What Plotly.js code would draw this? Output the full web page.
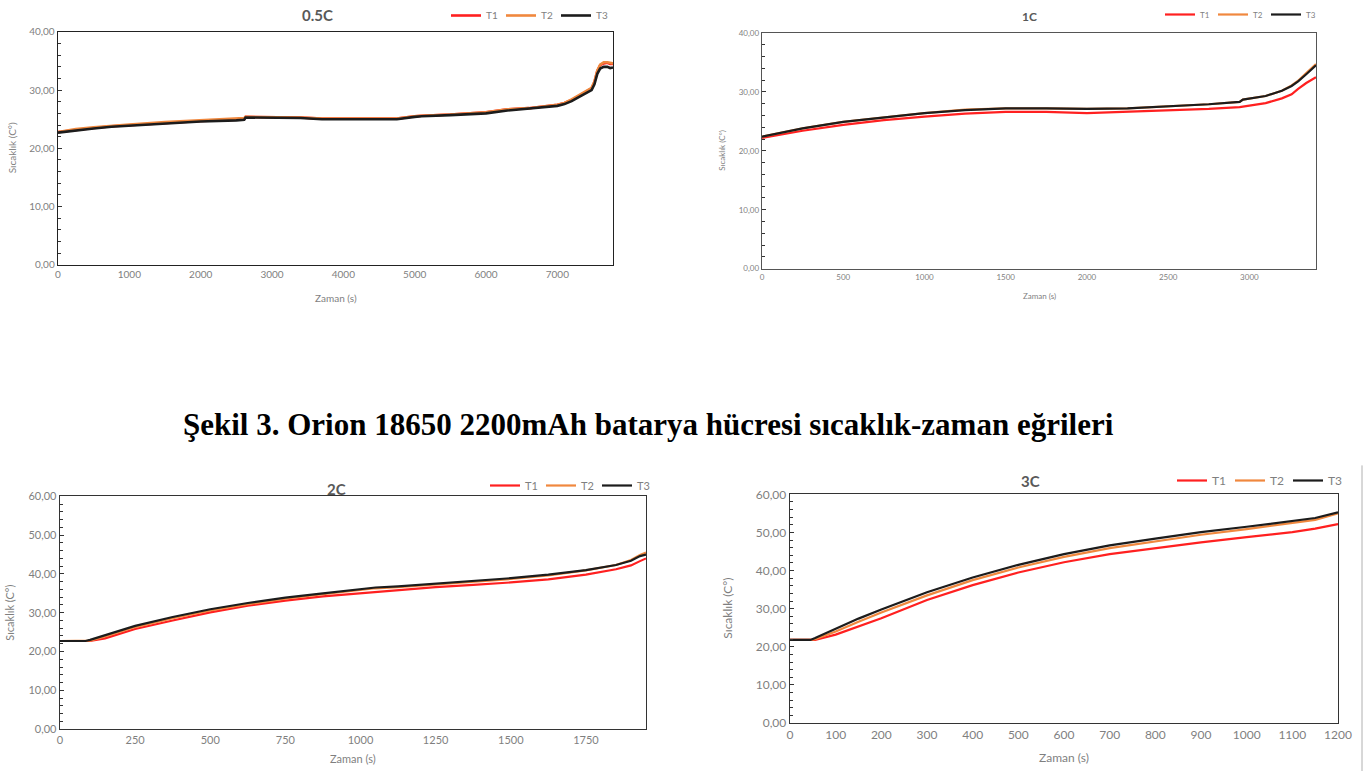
<!DOCTYPE html>
<html>
<head>
<meta charset="utf-8">
<script src="https://cdn.plot.ly/plotly-3.0.1.min.js"></script>
<style>html,body{margin:0;padding:0;background:#fff;}#chart{width:1365px;height:771px;}</style>
</head>
<body>
<div id="chart"></div>
<script>
// ---- Data ----
var seriesNames = ['T1', 'T2', 'T3'];
var panelTitles = ['0.5C', '1C', '2C', '3C'];
var xTitle = 'Zaman (s)';
var yTitle = 'Sıcaklık (C°)';
var caption = 'Şekil 3. Orion 18650 2200mAh batarya hücresi sıcaklık-zaman eğrileri';

// 0.5C
var time05 = [0,250,500,750,1000,1500,2000,2500,2610,2630,3000,3400,3700,4000,4500,4750,5000,5100,5500,6000,6300,6600,7000,7100,7200,7300,7400,7480,7520,7560,7600,7650,7700,7740,7780];
var t05_T1 = [22.8,23.2,23.5,23.8,24.0,24.4,24.7,24.9,25.0,25.4,25.4,25.3,25.1,25.1,25.1,25.1,25.5,25.6,25.8,26.2,26.7,26.9,27.5,27.8,28.3,29.0,29.8,30.3,31.4,33.3,34.3,34.6,34.7,34.5,34.5];
var t05_T2 = [22.8,23.3,23.6,23.9,24.1,24.5,24.8,25.1,25.2,25.4,25.4,25.3,25.1,25.1,25.1,25.1,25.5,25.6,25.8,26.2,26.7,26.9,27.5,27.8,28.4,29.1,29.9,30.4,31.5,33.4,34.4,34.8,34.8,34.7,34.6];
var t05_T3 = [22.7,23.1,23.4,23.7,23.9,24.3,24.6,24.8,24.9,25.3,25.3,25.2,25.0,25.0,25.0,25.0,25.4,25.5,25.7,26.0,26.5,26.8,27.3,27.6,28.1,28.8,29.5,30.0,31.0,32.8,33.7,34.0,34.0,33.8,33.9];

// 1C
var time1 = [0,100,250,500,750,1000,1250,1500,1750,2000,2250,2500,2750,2940,2960,3100,3200,3260,3300,3350,3410];
var t1_T1 = [22.2,22.7,23.4,24.4,25.2,25.8,26.3,26.6,26.6,26.4,26.6,26.8,27.1,27.4,27.5,28.1,28.9,29.6,30.5,31.5,32.5];
var t1_T2 = [22.4,23.0,23.8,24.9,25.7,26.4,27.0,27.2,27.2,27.1,27.2,27.5,27.9,28.3,28.7,29.3,30.2,31.1,31.9,33.2,34.7];
var t1_T3 = [22.4,23.0,23.8,24.9,25.7,26.4,26.9,27.2,27.2,27.1,27.2,27.5,27.9,28.3,28.7,29.3,30.2,31.0,31.8,33.0,34.5];

// 2C
var time2 = [0,85,100,150,250,375,500,625,750,875,1000,1050,1125,1250,1375,1500,1625,1750,1850,1900,1930,1950];
var t2_T1 = [22.7,22.7,22.7,23.4,25.8,28.0,30.1,31.8,33.1,34.2,35.0,35.4,35.9,36.6,37.2,37.8,38.6,39.8,41.2,42.2,43.3,44.0];
var t2_T2 = [22.7,22.7,22.8,23.9,26.3,28.6,30.6,32.2,33.6,34.8,35.8,36.3,36.6,37.3,38.0,38.7,39.6,40.9,42.3,43.6,44.9,45.5];
var t2_T3 = [22.7,22.7,23.0,24.2,26.6,28.9,30.9,32.5,33.9,35.0,36.0,36.5,36.8,37.5,38.2,38.9,39.8,41.0,42.3,43.4,44.6,45.0];

// 3C
var time3 = [0,45,55,100,150,200,300,400,500,600,700,800,900,1000,1100,1150,1200];
var t3_T1 = [21.8,21.8,21.8,23.2,25.3,27.5,32.3,36.2,39.5,42.2,44.3,45.9,47.4,48.8,50.1,51.0,52.2];
var t3_T2 = [21.8,21.8,22.0,24.0,26.6,29.0,33.5,37.5,40.8,43.6,45.9,47.7,49.4,50.9,52.6,53.3,55.0];
var t3_T3 = [21.8,21.8,22.3,24.8,27.4,29.8,34.3,38.2,41.5,44.3,46.6,48.4,50.1,51.5,53.1,53.8,55.3];

// ---- Styling ----
var W = 1365, H = 771;
var colors = ['#ff2020', '#f0883e', '#1c1c1c'];
var px = function(v){ return v / W; };
var py = function(v){ return 1 - v / H; };
var FONT = 'Lato, "Open Sans", sans-serif';

var panels = [
  {t: time05, s: [t05_T1, t05_T2, t05_T3], xr: [0, 7780], yr: [0, 40], dx: 1000,
   dom: [58, 613, 31, 264], lw: 2.6, tf: 10, ew: 10, frame: '#222', legX: 446, legY: 1, titleX: 317, titleY: 14, titleSize: 15,
   yT: 12, xTy: 297},
  {t: time1, s: [t1_T1, t1_T2, t1_T3], xr: [0, 3410], yr: [0, 40], dx: 500,
   dom: [762, 1316, 32, 268], lw: 2.2, tf: 8, ew: 8, frame: '#555', legX: 1160, legY: -1, titleX: 1029, titleY: 16, titleSize: 12,
   yT: 722, xTy: 295},
  {t: time2, s: [t2_T1, t2_T2, t2_T3], xr: [0, 1950], yr: [0, 60], dx: 250,
   dom: [60, 646, 496, 729], lw: 2.2, tf: 11, ew: 11, frame: '#333', legX: 485, legY: 471, titleX: 336, titleY: 489, titleSize: 15,
   yT: 10, xTy: 758},
  {t: time3, s: [t3_T1, t3_T2, t3_T3], xr: [0, 1200], yr: [0, 60], dx: 100,
   dom: [790, 1338, 494, 723], lw: 2.2, tf: 12, ew: 13, frame: '#333', legX: 1172, legY: 466, titleX: 1030, titleY: 481, titleSize: 15,
   yT: 728, xTy: 757}
];

var traces = [];
var layout = {
  width: W, height: H,
  margin: {l: 0, r: 0, t: 0, b: 0},
  paper_bgcolor: '#fff', plot_bgcolor: '#fff',
  separators: ',.',
  font: {family: FONT, color: '#7f7f7f'},
  annotations: [], shapes: []
};

panels.forEach(function(p, i){
  var n = i + 1;
  var xa = 'x' + (n === 1 ? '' : n), ya = 'y' + (n === 1 ? '' : n);
  var legName = 'legend' + (n === 1 ? '' : n);
  p.s.forEach(function(vals, k){
    traces.push({
      type: 'scatter', mode: 'lines', x: p.t, y: vals, name: seriesNames[k],
      xaxis: xa, yaxis: ya, legend: legName,
      line: {color: colors[k], width: p.lw}
    });
  });
  layout['xaxis' + (n === 1 ? '' : n)] = {
    domain: [px(p.dom[0]), px(p.dom[1])], range: p.xr, anchor: ya,
    dtick: p.dx, tick0: 0, showgrid: false, zeroline: false,
    showline: true, mirror: true, linecolor: p.frame, linewidth: 1.3,
    ticks: '', tickfont: {size: p.tf, color: '#7f7f7f', family: FONT}, fixedrange: true
  };
  layout['yaxis' + (n === 1 ? '' : n)] = {
    domain: [py(p.dom[3]), py(p.dom[2])], range: p.yr, anchor: xa,
    dtick: 10, tick0: 0, tickformat: '.2f', showgrid: false, zeroline: false,
    showline: true, mirror: true, linecolor: p.frame, linewidth: 1.3,
    ticks: 'inside', ticklen: 4, tickcolor: '#333', tickwidth: 1,
    minor: {dtick: 2, ticks: 'inside', ticklen: 3, tickcolor: '#333', tickwidth: 1},
    tickfont: {size: p.tf, color: '#7f7f7f', family: FONT}, fixedrange: true
  };
  layout[legName] = {
    orientation: 'h', x: px(p.legX), y: py(p.legY), xanchor: 'left', yanchor: 'top',
    bgcolor: 'rgba(0,0,0,0)', font: {size: p.tf, color: '#7f7f7f', family: FONT},
    itemwidth: 30, tracegroupgap: 0, entrywidth: p.ew
  };
  layout.annotations.push({
    text: '<b>' + panelTitles[i] + '</b>', x: px(p.titleX), y: py(p.titleY), xref: 'paper', yref: 'paper',
    xanchor: 'center', yanchor: 'middle', showarrow: false,
    font: {size: p.titleSize, color: '#595959', family: FONT}
  });
  layout.annotations.push({
    text: xTitle, x: px((p.dom[0] + p.dom[1]) / 2), y: py(p.xTy), xref: 'paper', yref: 'paper',
    xanchor: 'center', yanchor: 'middle', showarrow: false,
    font: {size: p.tf, color: '#7f7f7f', family: FONT}
  });
  layout.annotations.push({
    text: yTitle, x: px(p.yT), y: py((p.dom[2] + p.dom[3]) / 2), xref: 'paper', yref: 'paper',
    xanchor: 'center', yanchor: 'middle', showarrow: false, textangle: -90,
    font: {size: p.tf, color: '#7f7f7f', family: FONT}
  });
});

layout.annotations.push({
  text: '<b>' + caption + '</b>', x: px(648), y: py(424), xref: 'paper', yref: 'paper',
  xanchor: 'center', yanchor: 'middle', showarrow: false,
  font: {size: 31, color: '#000', family: '"Liberation Serif", "DejaVu Serif", serif'}
});

layout.shapes.push({
  type: 'line', xref: 'paper', yref: 'paper', x0: px(1362), x1: px(1362), y0: 0, y1: py(465),
  line: {color: '#b0b0b0', width: 1}
});

Plotly.newPlot('chart', traces, layout, {displayModeBar: false, staticPlot: true});
</script>
</body>
</html>
